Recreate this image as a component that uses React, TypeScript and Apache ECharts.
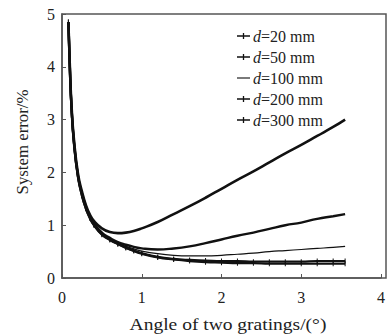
import React, { useEffect, useRef } from "react";
import * as echarts from "echarts";

const angles = [0.08, 0.1, 0.12, 0.15, 0.2, 0.25, 0.3, 0.35, 0.4, 0.5, 0.6, 0.7, 0.8, 0.9, 1.0, 1.2, 1.4, 1.6, 1.8, 2.0, 2.2, 2.4, 2.6, 2.8, 3.0, 3.2, 3.4, 3.55];
const d20 = [4.85, 3.95, 3.25, 2.62, 1.98, 1.64, 1.38, 1.2, 1.08, 0.94, 0.87, 0.85, 0.86, 0.89, 0.94, 1.06, 1.21, 1.36, 1.52, 1.69, 1.86, 2.02, 2.19, 2.36, 2.52, 2.69, 2.86, 3.0];
const d50 = [4.85, 3.92, 3.22, 2.58, 1.94, 1.6, 1.35, 1.17, 1.04, 0.86, 0.76, 0.68, 0.63, 0.59, 0.56, 0.54, 0.56, 0.6, 0.66, 0.73, 0.8, 0.86, 0.93, 1.0, 1.05, 1.12, 1.17, 1.21];
const d100 = [4.85, 3.9, 3.2, 2.56, 1.93, 1.58, 1.33, 1.15, 1.02, 0.84, 0.74, 0.66, 0.6, 0.55, 0.51, 0.46, 0.43, 0.42, 0.42, 0.43, 0.45, 0.47, 0.5, 0.52, 0.54, 0.56, 0.58, 0.6];
const d200 = [4.85, 3.9, 3.2, 2.55, 1.92, 1.57, 1.32, 1.14, 1.01, 0.83, 0.73, 0.65, 0.58, 0.52, 0.47, 0.4, 0.36, 0.34, 0.33, 0.32, 0.32, 0.31, 0.31, 0.31, 0.31, 0.32, 0.32, 0.32];
const d300 = [4.85, 3.9, 3.2, 2.55, 1.92, 1.56, 1.31, 1.13, 1.0, 0.82, 0.72, 0.64, 0.57, 0.51, 0.46, 0.39, 0.35, 0.32, 0.3, 0.29, 0.28, 0.28, 0.27, 0.27, 0.27, 0.27, 0.27, 0.27];
const seriesNames = ["20", "50", "100", "200", "300"];
const seriesValues = [d20, d50, d100, d200, d300];
const xTitle = "Angle of two gratings/(°)";
const yTitle = "System error/%";

const FONT = "'Liberation Serif', 'Times New Roman', serif";
const TXT = "#222";

export default function App() {
  const ref = useRef<HTMLDivElement>(null);
  useEffect(() => {
    if (!ref.current) return;
    const chart = echarts.init(ref.current, undefined, { renderer: "svg" });
    const widths = [2.6, 2.4, 1.2, 2.4, 2.2];
    const tickIcon = "path://M0,5h14v1.4h-14z M6.3,2.5h1.4v6.4h-1.4z";
    const lineIcon = "path://M0,5h14v1.2h-14z";
    const series = seriesNames.map((n, i) => ({
      name: `d=${n} mm`,
      type: "line",
      data: angles.map((a, j) => [a, seriesValues[i][j]]),
      showSymbol: i >= 3,
      symbol: "rect",
      symbolSize: [1, 5],
      smooth: true,
      lineStyle: { color: "#111", width: widths[i] },
      itemStyle: { color: "#111" },
    }));
    chart.setOption({
      animation: false,
      backgroundColor: "#fff",
      grid: { left: 62, top: 14, right: 2, bottom: 58 },
      legend: {
        orient: "vertical",
        left: 232,
        top: 23,
        itemWidth: 13,
        itemHeight: 10,
        itemGap: 5,
        data: seriesNames.map((n, i) => ({ name: `d=${n} mm`, icon: i === 2 ? lineIcon : tickIcon })),
        formatter: (name: string) => `{i|d}=${name.slice(2)}`,
        textStyle: {
          fontFamily: FONT,
          fontSize: 16,
          lineHeight: 15,
          color: TXT,
          padding: [0, 0, 0, -2],
          rich: { i: { fontStyle: "italic", fontFamily: FONT, fontSize: 16, color: TXT } },
        },
      },
      xAxis: {
        type: "value",
        min: 0,
        max: 4,
        interval: 1,
        axisLine: { lineStyle: { color: "#555", width: 1.5 } },
        axisTick: { inside: true, length: 4, lineStyle: { color: "#555" } },
        axisLabel: { fontFamily: FONT, fontSize: 16, color: TXT, margin: 11 },
        splitLine: { show: false },
      },
      yAxis: {
        type: "value",
        min: 0,
        max: 5,
        interval: 1,
        axisLine: { lineStyle: { color: "#555", width: 1.5 } },
        axisTick: { inside: true, length: 4, lineStyle: { color: "#555" } },
        axisLabel: { fontFamily: FONT, fontSize: 16, color: TXT, margin: 7 },
        splitLine: { show: false },
      },
      graphic: [
        {
          type: "rect",
          shape: { x: 62, y: 14, width: 324, height: 264 },
          style: { fill: "none", stroke: "#555", lineWidth: 1.5 },
          silent: true,
          z: 10,
        },
        {
          type: "text",
          x: 228,
          y: 325,
          scaleX: 1.22,
          style: { text: xTitle, font: `16px ${FONT}`, fill: TXT, align: "center", verticalAlign: "middle" },
        },
        {
          type: "text",
          x: 23,
          y: 142,
          rotation: Math.PI / 2,
          scaleX: 1.05,
          style: { text: yTitle, font: `16px ${FONT}`, fill: TXT, align: "center", verticalAlign: "middle" },
        },
      ],
      series,
    });
    return () => chart.dispose();
  }, []);
  return <div ref={ref} style={{ position: "absolute", left: 0, top: 0, width: 388, height: 336 }} />;
}
